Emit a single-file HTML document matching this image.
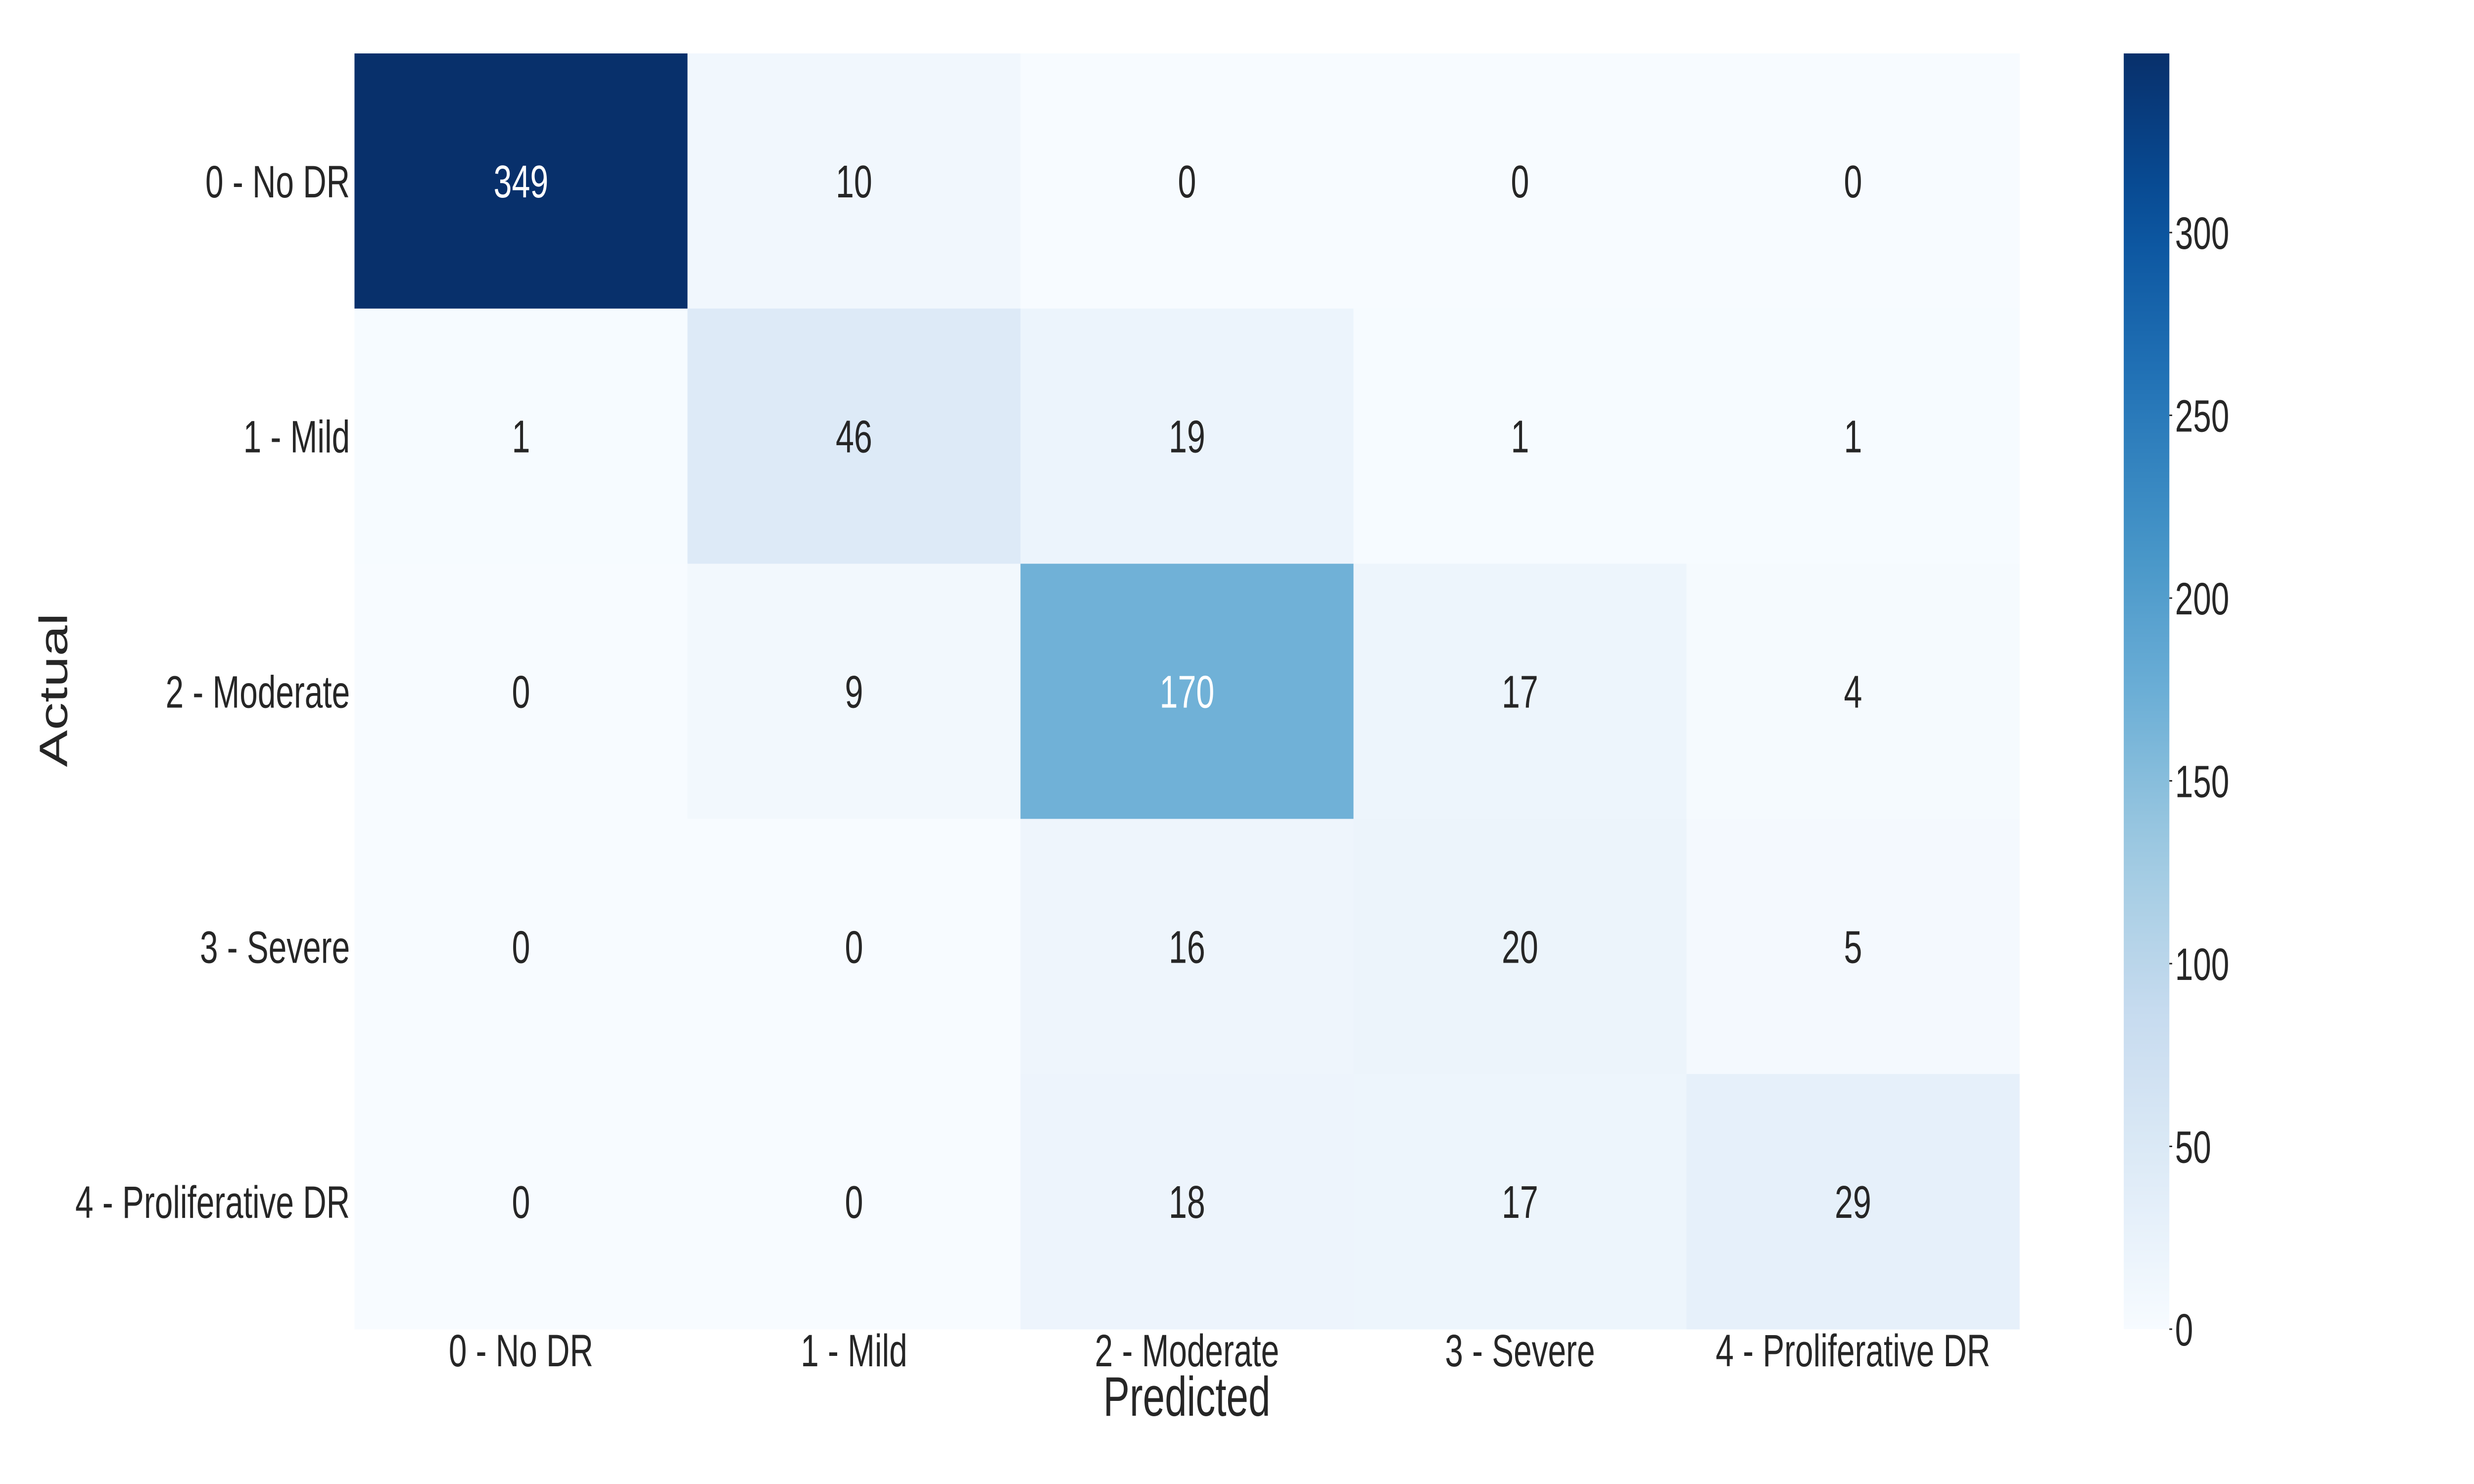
<!DOCTYPE html>
<html><head><meta charset="utf-8"><style>
html,body{margin:0;padding:0;background:#fff;width:100%;height:100%;overflow:hidden;}
svg{display:block;font-family:"Liberation Sans",sans-serif;width:100vw;height:100vh;}
</style></head><body>
<svg id="chart" viewBox="0 0 7000 3000" preserveAspectRatio="none" xmlns="http://www.w3.org/2000/svg">
<defs><linearGradient id="cbgrad" x1="0" y1="1" x2="0" y2="0"></linearGradient></defs>
<g id="cells"></g>
<g id="annots"></g>
<g id="xlabels"></g>
<g id="ylabels"></g>
<text x="3358" y="2862" font-size="112" fill="#262626" text-anchor="middle">Predicted</text>
<text transform="translate(190,1395) rotate(-90)" font-size="112" fill="#262626" text-anchor="middle">Actual</text>
<g id="colorbar"></g>
</svg>
<script>
const categories = ["0 - No DR","1 - Mild","2 - Moderate","3 - Severe","4 - Proliferative DR"];
const matrix = [
 [349,10,0,0,0],
 [1,46,19,1,1],
 [0,9,170,17,4],
 [0,0,16,20,5],
 [0,0,18,17,29]
];
const cbTicks = [0,50,100,150,200,250,300];
const vmin = 0, vmax = 349;

const NS = "http://www.w3.org/2000/svg";
const L = 1003, R = 5714, T = 108, B = 2687;
const n = categories.length;
const cw = (R - L) / n, ch = (B - T) / n;
const xPos = j => L + j * cw;
const yPos = i => T + i * ch;
const stops = ["#f7fbff","#deebf7","#c6dbef","#9ecae1","#6baed6","#4292c6","#2171b5","#08519c","#08306b"];
function hex(h){return [1,3,5].map(k=>parseInt(h.substr(k,2),16));}
function blues(t){
  t = Math.max(0, Math.min(1, t));
  const p = t * (stops.length - 1), k = Math.min(Math.floor(p), stops.length - 2), f = p - k;
  const a = hex(stops[k]), b = hex(stops[k+1]);
  return a.map((v,idx)=>Math.round(v + (b[idx]-v)*f));
}
function rgb(c){return "rgb("+c.join(",")+")";}
function mk(tag, attrs, parent){const e=document.createElementNS(NS,tag);for(const k in attrs)e.setAttribute(k,attrs[k]);parent.appendChild(e);return e;}

const cells = document.getElementById("cells"), annots = document.getElementById("annots");
matrix.forEach((row,i)=>row.forEach((v,j)=>{
  const c = blues((v - vmin)/(vmax - vmin));
  const r = mk("rect",{x:xPos(j),y:yPos(i),width:cw+0.5,height:ch+0.5,fill:rgb(c)},cells);
  
  
  const t = mk("text",{x:xPos(j)+cw/2,y:yPos(i)+ch/2+33,"font-size":93,"text-anchor":"middle",fill: v > 120 ? "#ffffff" : "#262626"},annots);
  t.textContent = v;
  
  
}));

const xl = document.getElementById("xlabels"), yl = document.getElementById("ylabels");
categories.forEach((c,k)=>{
  const tx = mk("text",{x:xPos(k)+cw/2,y:2762,"font-size":92,"text-anchor":"middle",fill:"#262626"},xl);
  tx.textContent = c;
  
  
  const ty = mk("text",{x:990,y:yPos(k)+ch/2+33,"font-size":92,"text-anchor":"end",fill:"#262626"},yl);
  ty.textContent = c;
  
  
});

const grad = document.getElementById("cbgrad");
for(let s=0;s<=20;s++){
  mk("stop",{offset:(s/20),"stop-color":rgb(blues(s/20))},grad);
}
const cb = document.getElementById("colorbar");
const CBL = 6009, CBR = 6138;
const cbY = v => B - (v - vmin)/(vmax - vmin)*(B - T);
const bar = mk("rect",{x:CBL,y:T,width:CBR-CBL,height:B-T,fill:"url(#cbgrad)"},cb);


cbTicks.forEach(v=>{
  const y = cbY(v);
  const ln = mk("line",{x1:CBR,x2:CBR+8,y1:y,y2:y,stroke:"#262626","stroke-width":3},cb);
  
  
  const t = mk("text",{x:6154,y:y+33,"font-size":92,fill:"#262626"},cb);
  t.textContent = v;
  
  
});
</script>
</body></html>
